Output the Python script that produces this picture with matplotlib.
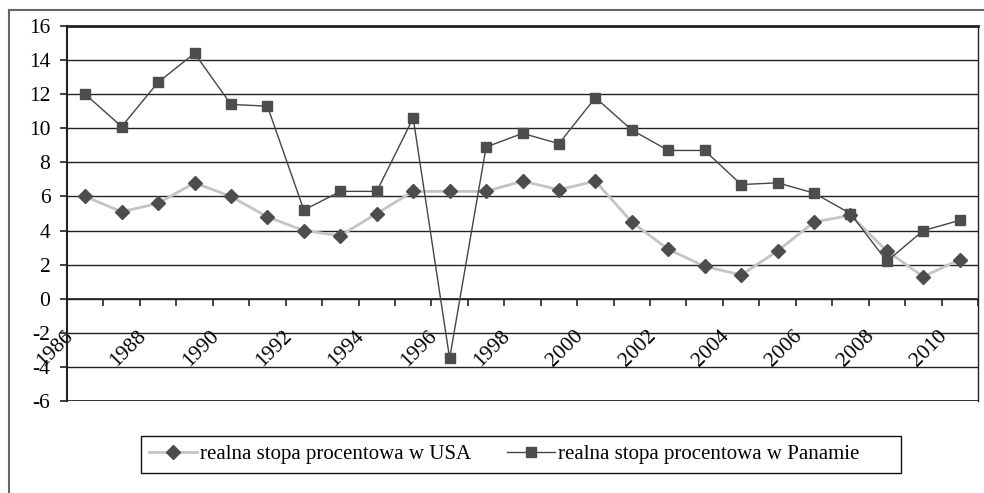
import matplotlib
matplotlib.use("Agg")
import matplotlib.pyplot as plt
from matplotlib.lines import Line2D
from matplotlib.patches import Rectangle
from matplotlib.transforms import ScaledTranslation

years = list(range(1986, 2011))
usa = [6.0, 5.1, 5.6, 6.8, 6.0, 4.8, 4.0, 3.7, 5.0, 6.3, 6.3, 6.3, 6.9,
       6.4, 6.9, 4.5, 2.9, 1.9, 1.4, 2.8, 4.5, 4.9, 2.8, 1.3, 2.3]
panama = [12.0, 10.1, 12.7, 14.4, 11.4, 11.3, 5.2, 6.3, 6.3, 10.6, -3.5, 8.9, 9.7,
          9.1, 11.8, 9.9, 8.7, 8.7, 6.7, 6.8, 6.2, 5.0, 2.2, 4.0, 4.6]
y_ticks = list(range(-6, 17, 2))
label_usa = "realna stopa procentowa w USA"
label_panama = "realna stopa procentowa w Panamie"

plt.rcParams["font.family"] = ["Liberation Serif", "DejaVu Serif"]
plt.rcParams["font.size"] = 15

fig = plt.figure(figsize=(9.84, 4.93), dpi=100)
ax = fig.add_axes([0.0681, 0.1866, 0.9258, 0.7606])

x = list(range(len(years)))
ax.plot(x, usa, color="#c4c4c4", lw=2, marker="D", ms=7,
        mfc="#4d4d4d", mec="#4d4d4d", label=label_usa, zorder=3)
ax.plot(x, panama, color="#454545", lw=1, marker="s", ms=6.5,
        mfc="#4d4d4d", mec="#4d4d4d", label=label_panama, zorder=4)

ax.set_xlim(-0.5, len(years) - 0.5)
ax.set_ylim(-6, 16)
ax.set_yticks(y_ticks)
ax.set_yticklabels([str(v) for v in y_ticks], fontsize=15.5)
for v in y_ticks:
    ax.axhline(v, color="#222222", lw=1, zorder=1)
ax.axhline(-6, color="#222222", lw=2, zorder=2)

# category axis crosses at zero
ax.spines["bottom"].set_position(("data", 0))
ax.spines["bottom"].set_linewidth(1.2)
ax.spines["top"].set_linewidth(2)
ax.spines["left"].set_linewidth(1.5)
ax.spines["right"].set_linewidth(1)
for s in ax.spines.values():
    s.set_color("#222222")

ax.set_xticks(x[::2])
ax.set_xticklabels([str(y) for y in years[::2]], fontsize=15.5)
ax.set_xticks([i - 0.5 for i in range(len(years) + 1)], minor=True)
ax.tick_params(axis="x", which="major", length=0, pad=25)
ax.tick_params(axis="x", which="minor", length=5, width=1.2, direction="out", color="#222222")
ax.tick_params(axis="y", length=5, width=1.2, pad=7, color="#222222")
shift = ScaledTranslation(-0.15, 0, fig.dpi_scale_trans)
for lab in ax.get_xticklabels():
    lab.set_rotation(45)
    lab.set_rotation_mode("anchor")
    lab.set_ha("right")
    lab.set_va("center")
    lab.set_transform(lab.get_transform() + shift)

# legend box drawn separately (Excel leaves extra room on the right)
fig.add_artist(Rectangle((141 / 984, 1 - 473 / 493), 760 / 984, 37 / 493,
                         transform=fig.transFigure, fill=False,
                         edgecolor="#111111", lw=1))
fig.legend(loc="center left", bbox_to_anchor=(149 / 984, 1 - 454.5 / 493), ncol=2,
           frameon=False, handlelength=2.3, columnspacing=1.7, handletextpad=0.15,
           borderpad=0, borderaxespad=0)

# outer chart border
fig.add_artist(Line2D([0.0091, 0.0091], [0.0, 0.9797], transform=fig.transFigure,
                      color="#666666", lw=1.5))
fig.add_artist(Line2D([0.0091, 1.0], [0.9797, 0.9797], transform=fig.transFigure,
                      color="#666666", lw=1.5))

fig.savefig("out.png", dpi=100)
